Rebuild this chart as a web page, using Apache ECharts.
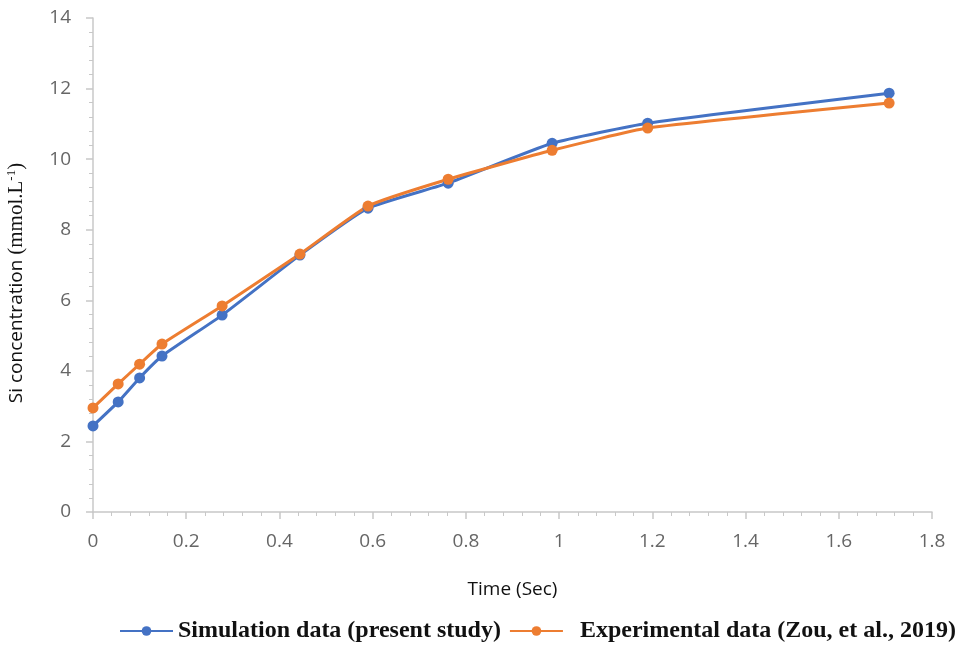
<!DOCTYPE html>
<html>
<head>
    <meta charset="utf-8">
    <title>Si concentration</title>
    <script src="https://cdn.jsdelivr.net/npm/echarts@6/dist/echarts.min.js"></script>
    <style>
        html, body { margin: 0; padding: 0; background: #fff; }
        #chart1 { width: 960px; height: 649px; }
    </style>
</head>
<body>
<div id="chart1"></div>
<script>
    // time (Sec)
    var simTime = [0, 0.054, 0.10, 0.148, 0.277, 0.444, 0.59, 0.762, 0.985, 1.19, 1.708];
    var simConc = [2.44, 3.12, 3.80, 4.42, 5.58, 7.28, 8.61, 9.32, 10.45, 11.02, 11.87];
    var expTime = [0, 0.054, 0.10, 0.148, 0.277, 0.444, 0.59, 0.762, 0.985, 1.19, 1.708];
    var expConc = [2.95, 3.63, 4.19, 4.76, 5.84, 7.31, 8.67, 9.43, 10.25, 10.88, 11.59];
    var seriesNames = ['Simulation data (present study)', 'Experimental data (Zou, et al., 2019)'];

    function pairs(xs, ys) {
        return xs.map(function (x, i) { return [x, ys[i]]; });
    }

    var axisGrey = '#c8c8c8';
    var labelGrey = '#666666';

    var myChart1 = echarts.init(document.getElementById('chart1'));
    myChart1.setOption({
        animation: false,
        grid: { left: 93, right: 28, top: 18, bottom: 137, containLabel: false, outerBoundsMode: 'none' },
        legend: {
            data: [
                { name: seriesNames[0] },
                { name: seriesNames[1], textStyle: { padding: [0, 0, 0, 12] } }
            ],
            top: 619,
            left: 119,
            width: 841,
            padding: 0,
            itemWidth: 53,
            itemHeight: 12,
            itemGap: 8,
            textStyle: { fontFamily: 'Liberation Serif', fontWeight: 'bold', fontSize: 24, color: '#111' }
        },
        xAxis: {
            type: 'value',
            min: 0, max: 1.8, interval: 0.2,
            name: 'Time (Sec)',
            nameLocation: 'middle',
            nameGap: 68,
            nameTextStyle: { fontFamily: 'Open Sans', fontSize: 19, color: '#111' },
            axisLine: { lineStyle: { color: axisGrey, width: 1.5 } },
            axisTick: { show: true, length: 7, lineStyle: { color: axisGrey, width: 1.5 } },
            minorTick: { show: true, splitNumber: 5, length: 4, lineStyle: { color: axisGrey } },
            splitLine: { show: false },
            axisLabel: { margin: 20, fontFamily: 'Open Sans', fontSize: 19, color: labelGrey }
        },
        yAxis: {
            type: 'value',
            min: 0, max: 14, interval: 2,
            name: '{a|Si concentration }{b|(mmol.L}{c|-1}{b|)}',
            nameLocation: 'middle',
            nameGap: 65,
            nameTextStyle: {
                padding: [0, 36, 0, 0],
                rich: {
                    a: { fontFamily: 'Open Sans', fontSize: 19, color: '#111' },
                    b: { fontFamily: 'Liberation Serif', fontSize: 21, color: '#111' },
                    c: { fontFamily: 'Liberation Serif', fontSize: 13, color: '#111', padding: [0, 0, 10, 0] }
                }
            },
            axisLine: { show: true, lineStyle: { color: axisGrey, width: 1.5 } },
            axisTick: { show: true, length: 7, lineStyle: { color: axisGrey, width: 1.5 } },
            minorTick: { show: true, splitNumber: 5, length: 4, lineStyle: { color: axisGrey } },
            splitLine: { show: false },
            axisLabel: { margin: 22, fontFamily: 'Open Sans', fontSize: 19, color: labelGrey }
        },
        series: [{
            name: seriesNames[0],
            type: 'line',
            data: pairs(simTime, simConc),
            smooth: 0.15,
            symbol: 'circle',
            symbolSize: 11,
            itemStyle: { color: '#4472C4' },
            lineStyle: { color: '#4472C4', width: 3 }
        }, {
            name: seriesNames[1],
            type: 'line',
            data: pairs(expTime, expConc),
            smooth: 0.15,
            symbol: 'circle',
            symbolSize: 11,
            itemStyle: { color: '#ED7D31' },
            lineStyle: { color: '#ED7D31', width: 3 }
        }]
    });
</script>
</body>
</html>
